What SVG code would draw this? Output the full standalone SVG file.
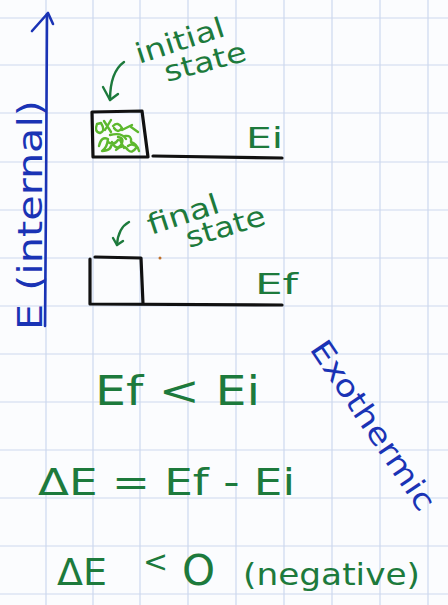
<svg xmlns="http://www.w3.org/2000/svg" width="448" height="605" viewBox="0 0 448 605">
<style>
.grid line{stroke:#cdd8ee;stroke-width:1.2}
.ink{fill:none;stroke:#111;stroke-width:3.2;stroke-linecap:round;stroke-linejoin:round}
.g{fill:#1d7a3c;font-family:"DejaVu Sans","Liberation Sans",sans-serif}
.b{fill:#1a33b5;font-family:"DejaVu Sans","Liberation Sans",sans-serif}
.gs{fill:none;stroke:#1d7a3c;stroke-width:2.4;stroke-linecap:round;stroke-linejoin:round}
.bs{fill:none;stroke:#1a33b5;stroke-width:2.6;stroke-linecap:round;stroke-linejoin:round}
.scr{fill:none;stroke:#5db82e;stroke-width:2.4;stroke-linecap:round;stroke-linejoin:round}
</style>
<rect width="448" height="605" fill="#fbfcfe"/>
<g class="grid">
<line x1="46" y1="0" x2="46" y2="605"/><line x1="93" y1="0" x2="93" y2="605"/><line x1="140" y1="0" x2="140" y2="605"/><line x1="188" y1="0" x2="188" y2="605"/><line x1="236" y1="0" x2="236" y2="605"/><line x1="284" y1="0" x2="284" y2="605"/><line x1="332" y1="0" x2="332" y2="605"/><line x1="380" y1="0" x2="380" y2="605"/><line x1="428" y1="0" x2="428" y2="605"/>
<line x1="0" y1="18" x2="448" y2="18"/><line x1="0" y1="65" x2="448" y2="65"/><line x1="0" y1="113" x2="448" y2="113"/><line x1="0" y1="162" x2="448" y2="162"/><line x1="0" y1="210" x2="448" y2="210"/><line x1="0" y1="258" x2="448" y2="258"/><line x1="0" y1="306" x2="448" y2="306"/><line x1="0" y1="354" x2="448" y2="354"/><line x1="0" y1="402" x2="448" y2="402"/><line x1="0" y1="450" x2="448" y2="450"/><line x1="0" y1="498" x2="448" y2="498"/><line x1="0" y1="546" x2="448" y2="546"/><line x1="0" y1="594" x2="448" y2="594"/>
</g>
<g id="axis">
<path class="bs" d="M45 326 L46 200 L47 14"/>
<path class="bs" d="M32 31 L48 13 L53 24"/>
<text class="b" font-size="34" transform="translate(42,330) rotate(-90)" textLength="230" lengthAdjust="spacingAndGlyphs">E (internal)</text>
</g>
<g id="initial-state">
<path class="scr" d="M97 124 q-3 8 3 9 q6 -2 1 -10 z M104 121 l7 11 M111 120 l-6 10 M113 126 q5 -5 9 2 q-4 6 -8 0 M122 130 l10 -5 M99 146 q2 -10 9 -7 q-1 9 -6 12 q10 0 10 -9 q4 9 9 3 q4 -7 -3 -8 M116 150 q7 -7 12 0 q4 4 8 -2 M125 136 q7 -1 6 6 q6 2 8 9 M110 135 q12 -3 16 4 M131 127 l7 5 M108 142 q6 4 10 -2 M128 146 q5 -4 10 2 M120 140 l4 8"/>
<path class="ink" d="M92 112 L142 111 L148 157 L93 157 Z"/>
<path class="ink" d="M153 156 L282 158"/>
<text class="g" font-size="28" x="246" y="148" textLength="37" lengthAdjust="spacingAndGlyphs">Ei</text>
<path class="gs" d="M124 62 Q110 72 110 100"/>
<path class="gs" d="M103 87 L110 100 L118 94"/>
<text class="g" font-size="28" transform="translate(139,64) rotate(-18)" textLength="92" lengthAdjust="spacingAndGlyphs">initial</text>
<text class="g" font-size="28" transform="translate(167,82) rotate(-15)" textLength="84" lengthAdjust="spacingAndGlyphs">state</text>
</g>
<g id="final-state">
<path class="ink" d="M95 257 L141 258 L143 304 M90 259 L90 304 L282 305"/>
<text class="g" font-size="28" x="255" y="294" textLength="43" lengthAdjust="spacingAndGlyphs">Ef</text>
<path class="gs" d="M129 222 Q118 228 117 245"/>
<path class="gs" d="M113 238 L117 245 L123 241"/>
<text class="g" font-size="28" transform="translate(151,235) rotate(-18)" textLength="74" lengthAdjust="spacingAndGlyphs">final</text>
<text class="g" font-size="28" transform="translate(189,248) rotate(-17)" textLength="82" lengthAdjust="spacingAndGlyphs">state</text>
<circle cx="160" cy="258" r="1.5" fill="#c0702a"/>
</g>
<g id="equations">
<text class="g" font-size="40" x="95" y="405" textLength="165" lengthAdjust="spacingAndGlyphs">Ef &lt; Ei</text>
<text class="g" font-size="38" x="38" y="495" textLength="257" lengthAdjust="spacingAndGlyphs">ΔE = Ef - Ei</text>
<text class="g" font-size="38" y="585"><tspan x="57">ΔE</tspan><tspan x="143" y="572" font-size="30">&lt;</tspan><tspan x="182" y="585" font-size="42">O</tspan><tspan x="243" y="585" font-size="30" textLength="177" lengthAdjust="spacingAndGlyphs">(negative)</tspan></text>
</g>
<g id="exothermic">
<text class="b" font-size="30" transform="translate(309,349) rotate(56)" textLength="198" lengthAdjust="spacingAndGlyphs">Exothermic</text>
</g>
</svg>
